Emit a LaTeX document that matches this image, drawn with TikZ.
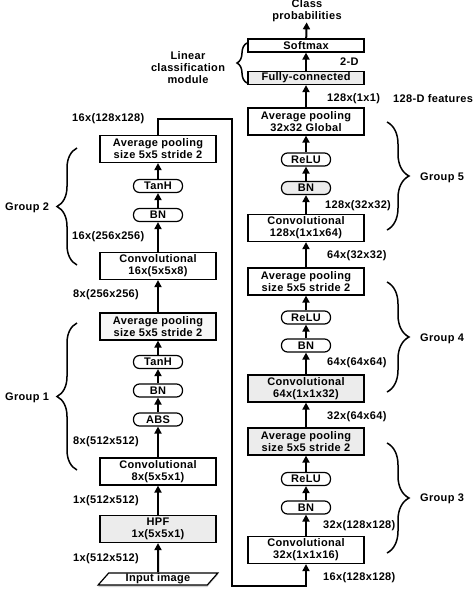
\documentclass[tikz,border=0pt]{standalone}
\usepackage{fontspec}
\setmainfont[LetterSpace=3]{Liberation Sans}
\usetikzlibrary{arrows.meta,shapes.geometric,decorations.pathreplacing,shadows}
\begin{document}
\begin{tikzpicture}[x=1pt,y=-1pt,
  font=\fontsize{11}{12}\selectfont\bfseries,
  box/.style={draw,line width=1.2pt,minimum width=116pt,align=center,inner sep=0pt,fill=white},
  tall/.style={box,minimum height=27pt},
  thin/.style={box,minimum height=13pt},
  pill/.style={draw,line width=1.2pt,rounded corners=6pt,minimum width=49pt,minimum height=13pt,inner sep=0pt,fill=white},
  grey/.style={fill=gray!15},
  arr/.style={-{Triangle[width=7pt,length=7pt]},line width=2pt},
  lab/.style={anchor=west,inner sep=0pt},
  lbrace/.style={decorate,decoration={brace,amplitude=20pt},line width=1.5pt},
  rbrace/.style={decorate,decoration={brace,amplitude=22pt},line width=1.5pt},
  cbrace/.style={decorate,decoration={brace,amplitude=10pt},line width=1.5pt},
]
\useasboundingbox (0,0) rectangle (474,590);

% left column
\node[trapezium,trapezium left angle=56,trapezium right angle=124,trapezium stretches=true,
  draw,line width=1.2pt,minimum width=120pt,minimum height=12pt,inner sep=0pt,fill=white,
  drop shadow={shadow xshift=0pt,shadow yshift=-2pt,fill=gray!70}] (in) at (158,579) {Input image};
\node[tall,grey] (hpf) at (158,529) {HPF\\1x(5x5x1)};
\node[tall] (c8) at (158,471.5) {Convolutional\\8x(5x5x1)};
\node[pill] (abs) at (158,419.5) {ABS};
\node[pill] (bn1) at (158,390.5) {BN};
\node[pill] (th1) at (158,362) {TanH};
\node[tall,fill=gray!6] (ap1) at (158,326.5) {Average pooling\\size 5x5 stride 2};
\node[tall] (c16) at (158,266) {Convolutional\\16x(5x5x8)};
\node[pill] (bn2) at (158,215) {BN};
\node[pill] (th2) at (158,186) {TanH};
\node[tall] (ap2) at (158,149) {Average pooling\\size 5x5 stride 2};

% right column
\node[align=center,inner sep=0pt] (cp) at (307,11) {Class\\probabilities};
\node[thin] (sm) at (306,45.5) {Softmax};
\node[thin,grey] (fc) at (306,78) {Fully-connected};
\node[tall] (apg) at (306,121.5) {Average pooling\\32x32 Global};
\node[pill] (r5) at (306,159.5) {ReLU};
\node[pill,grey] (bn5) at (306,188) {BN};
\node[tall] (c128) at (306,228) {Convolutional\\128x(1x1x64)};
\node[tall] (ap4) at (306,281.5) {Average pooling\\size 5x5 stride 2};
\node[pill] (r4) at (306,317.5) {ReLU};
\node[pill] (bn4) at (306,345.5) {BN};
\node[tall,grey] (c64) at (306,388.5) {Convolutional\\64x(1x1x32)};
\node[tall,grey] (ap3) at (306,441.5) {Average pooling\\size 5x5 stride 2};
\node[pill] (r3) at (306,479) {ReLU};
\node[pill] (bn3) at (306,507.5) {BN};
\node[tall] (c32) at (306,550) {Convolutional\\32x(1x1x16)};

% arrows
\foreach \a/\b in {in/hpf,hpf/c8,c8/abs,abs/bn1,bn1/th1,th1/ap1,ap1/c16,c16/bn2,bn2/th2,th2/ap2,
  c32/bn3,bn3/r3,r3/ap3,ap3/c64,c64/bn4,bn4/r4,r4/ap4,ap4/c128,c128/bn5,bn5/r5,r5/apg,apg/fc,fc/sm,sm/cp}
  \draw[arr] (\a) -- (\b);

% loop connector
\coordinate (k1) at (232,119);
\coordinate (k2) at (232,586);
\draw[arr] (ap2.north) |- (k1) -- (k2) -| (c32.south);

% size labels
\node[lab] (l1) at (72,119) {16x(128x128)};
\node[lab] (l2) at (72,237) {16x(256x256)};
\node[lab] (l3) at (73,295) {8x(256x256)};
\node[lab] (l4) at (73,442) {8x(512x512)};
\node[lab] (l5) at (73,501) {1x(512x512)};
\node[lab] (l6) at (73,559) {1x(512x512)};
\node[lab] (r1) at (340,62) {2-D};
\node[lab] (r2) at (327,99) {128x(1x1)};
\node[lab] (r2b) at (393,99) {128-D features};
\node[lab] (r6) at (325,206) {128x(32x32)};
\node[lab] (r7) at (327,256) {64x(32x32)};
\node[lab] (r8) at (327,363) {64x(64x64)};
\node[lab] (r9) at (327,417) {32x(64x64)};
\node[lab] (r10) at (323,526) {32x(128x128)};
\node[lab] (r11) at (323,578) {16x(128x128)};

% braces and group labels
\draw[lbrace] (77,265) -- (77,148);
\node[lab] (g2) at (5,208) {Group 2};
\draw[lbrace] (77,470) -- (77,323);
\node[lab] (g1) at (5,398) {Group 1};
\draw[rbrace] (387,122) -- (387,230);
\node[lab] (g5) at (420,178) {Group 5};
\draw[rbrace] (387,282) -- (387,392);
\node[lab] (g4) at (420,339) {Group 4};
\draw[rbrace] (387,443) -- (387,553);
\node[lab] (g3) at (420,499) {Group 3};
\draw[cbrace] (247,83) -- (247,43);
\node[align=center,inner sep=0pt] (lcm) at (188,68) {Linear\\classification\\module};
\end{tikzpicture}
\end{document}
